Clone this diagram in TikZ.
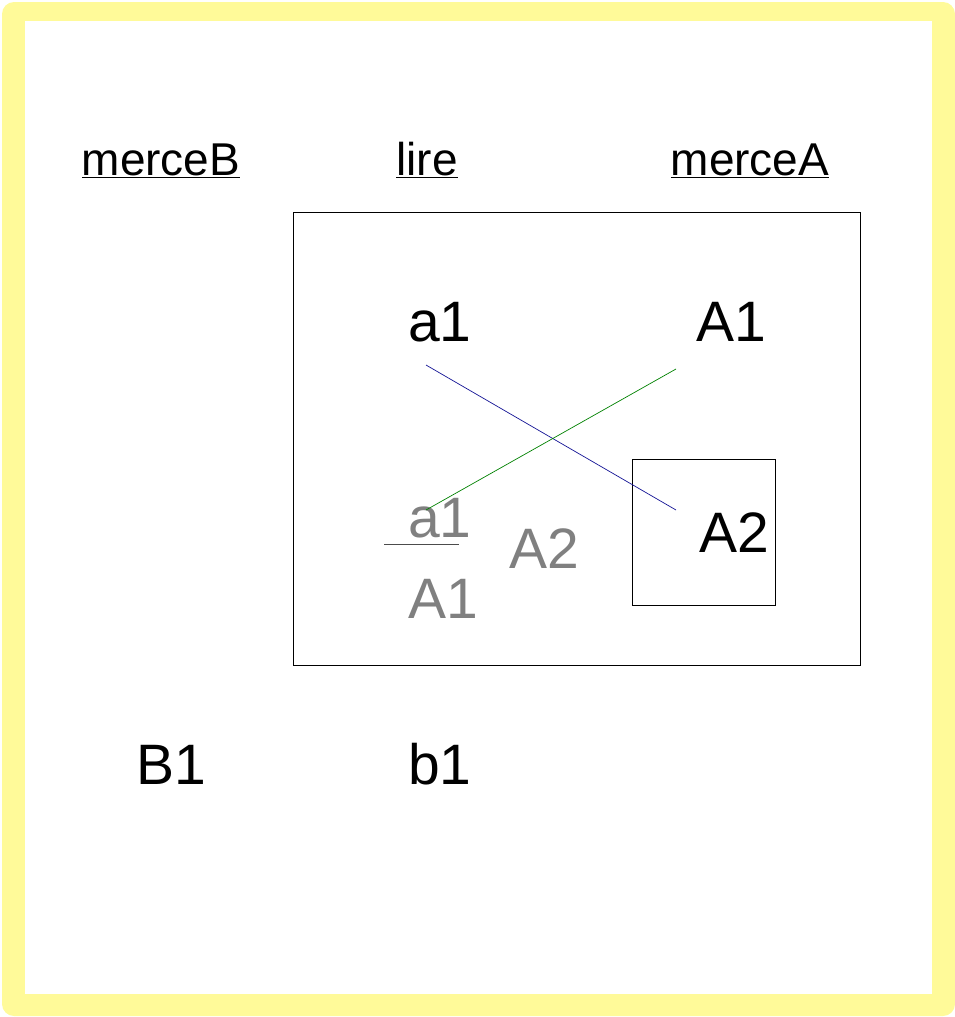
\documentclass[tikz,border=0pt]{standalone}
\usepackage{fontspec}
\setmainfont{Liberation Sans}
\usepackage{tikz}
\usetikzlibrary{positioning}

\begin{document}
\begin{tikzpicture}[
   x=1pt, y=-1pt, line width=0.8pt,
   title/.style={anchor=base,inner sep=0pt,font=\fontsize{46}{50}\selectfont},
   tok/.style={anchor=base,inner sep=0pt,font=\fontsize{57}{60}\selectfont},
   ghost/.style={tok,text=gray},
   frame/.style={draw=black,line width=0.7pt},
   link/.style={line width=0.7pt},
   ]
\useasboundingbox (0,0) rectangle (955,1017);
%% yellow border
\fill[yellow!40,rounded corners=12pt] (2,2) rectangle (955,1016);
\fill[white] (25,21) rectangle (932,994);
%% column titles
\node[title] (mB) at (161,175) {\underline{merceB}};
\node[title] (li) at (427,175) {\underline{lire}};
\node[title] (mA) at (750,175) {\underline{merceA}};
%% outer box and inner box
\node[frame,minimum width=567pt,minimum height=453pt,inner sep=0pt] (box) at (576.5,438.5) {};
\node[frame,minimum width=143pt,minimum height=146pt,inner sep=0pt] (sel) at (703.5,532) {};
%% tokens
\node[tok] (a1) at (440,341) {a1};
\node[tok] (A1) at (731,341) {A1};
\node[tok] (A2) at (734,552) {A2};
\node[ghost] (ga1) at (440,537) {a1};
\node[ghost] (gA2) at (544,568) {A2};
\node[ghost] (gA1) at (443,618) {A1};
\node[tok] (B1) at (171,784) {B1};
\node[tok] (b1) at (440,784) {b1};
%% link ends
\coordinate (pa) at (426,365);
\coordinate (pA2) at (676,510);
\coordinate (pga) at (426,510);
\coordinate (pA1) at (676,369);
\coordinate (barL) at (384,544);
\coordinate (barR) at (459,544);
\draw[link,draw={rgb,255:red,20;green,20;blue,150}] (pa) -- (pA2);
\draw[link,draw={rgb,255:red,0;green,130;blue,0}] (pga) -- (pA1);
\draw[link,draw=black!70] (barL) -- (barR);
\end{tikzpicture}
\end{document}
